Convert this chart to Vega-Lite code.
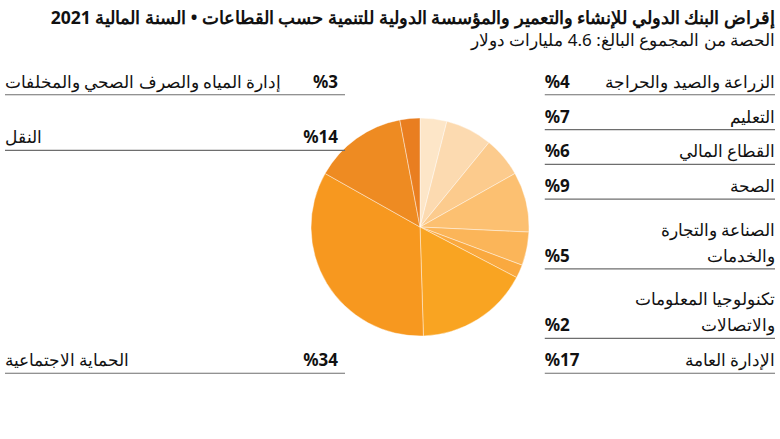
{
  "$schema": "https://vega.github.io/schema/vega-lite/v6.json",
  "width": 770,
  "height": 344,
  "autosize": {"type": "none"},
  "padding": {"left": 5, "top": 55, "right": 5, "bottom": 40},
  "background": "#ffffff",
  "config": {"view": {"stroke": null}, "font": "Noto Sans"},
  "title": {
    "text": "إقراض البنك الدولي للإنشاء والتعمير والمؤسسة الدولية للتنمية حسب القطاعات • السنة المالية 2021",
    "subtitle": "الحصة من المجموع البالغ: 4.6 مليارات دولار",
    "anchor": "end",
    "frame": "group",
    "font": "Noto Sans",
    "fontSize": 17.6,
    "fontWeight": "bold",
    "color": "#111111",
    "subtitleFont": "Noto Sans",
    "subtitleFontSize": 17,
    "subtitleColor": "#111111",
    "subtitlePadding": 5,
    "offset": 6
  },
  "data": {
    "values": [
      {"sector": "الزراعة والصيد والحراجة", "pct": 4},
      {"sector": "التعليم", "pct": 7},
      {"sector": "القطاع المالي", "pct": 6},
      {"sector": "الصحة", "pct": 9},
      {"sector": "الصناعة والتجارة\nوالخدمات", "pct": 5},
      {"sector": "تكنولوجيا المعلومات\nوالاتصالات", "pct": 2},
      {"sector": "الإدارة العامة", "pct": 17},
      {"sector": "الحماية الاجتماعية", "pct": 34},
      {"sector": "النقل", "pct": 14},
      {"sector": "إدارة المياه والصرف الصحي والمخلفات", "pct": 3}
    ]
  },
  "transform": [
    {"window": [{"op": "row_number", "as": "n"}]},
    {"calculate": "'%' + datum.pct", "as": "label"}
  ],
  "resolve": {"scale": {"y": "independent"}},
  "layer": [
    {
      "mark": {"type": "arc", "outerRadius": 109, "stroke": "#ffffff", "strokeWidth": 0.6, "strokeOpacity": 0.7},
      "encoding": {
        "theta": {"field": "pct", "type": "quantitative", "stack": true},
        "order": {"field": "n", "type": "quantitative"},
        "x": {"datum": 0.539, "type": "quantitative", "scale": {"domain": [0, 1]}, "axis": null},
        "color": {
          "field": "sector",
          "type": "nominal",
          "legend": null,
          "scale": {
            "domain": [
              "الزراعة والصيد والحراجة",
              "التعليم",
              "القطاع المالي",
              "الصحة",
              "الصناعة والتجارة\nوالخدمات",
              "تكنولوجيا المعلومات\nوالاتصالات",
              "الإدارة العامة",
              "الحماية الاجتماعية",
              "النقل",
              "إدارة المياه والصرف الصحي والمخلفات"
            ],
            "range": ["#fde6c8", "#fcdab0", "#fccb8d", "#fcc071", "#fbb559", "#faa93f", "#f9a422", "#f7981f", "#ee8b22", "#e97e20"]
          }
        }
      }
    },
    {
      "transform": [
        {"filter": {"field": "sector", "oneOf": [
          "الزراعة والصيد والحراجة",
          "التعليم",
          "القطاع المالي",
          "الصحة",
          "الصناعة والتجارة\nوالخدمات",
          "تكنولوجيا المعلومات\nوالاتصالات",
          "الإدارة العامة"
        ]}}
      ],
      "encoding": {
        "y": {
          "field": "sector",
          "type": "nominal",
          "axis": null,
          "scale": {
            "type": "point",
            "padding": 0.94,
            "domain": [
              "الزراعة والصيد والحراجة",
              "التعليم",
              "القطاع المالي",
              "الصحة",
              "_r1",
              "الصناعة والتجارة\nوالخدمات",
              "_r2",
              "تكنولوجيا المعلومات\nوالاتصالات",
              "الإدارة العامة"
            ]
          }
        }
      },
      "layer": [
        {
          "mark": {"type": "rule", "color": "#6e6e6e", "strokeWidth": 1.2, "yOffset": 7},
          "encoding": {
            "x": {"datum": 0.701, "type": "quantitative", "scale": {"domain": [0, 1]}, "axis": null},
            "x2": {"datum": 1}
          }
        },
        {
          "mark": {"type": "text", "align": "left", "baseline": "alphabetic", "fontSize": 17, "fontWeight": "bold", "color": "#111111", "font": "Noto Sans"},
          "encoding": {
            "x": {"datum": 0.701, "type": "quantitative", "scale": {"domain": [0, 1]}, "axis": null},
            "text": {"field": "label"}
          }
        },
        {
          "transform": [{"filter": "indexof(datum.sector, '\\n') < 0"}],
          "mark": {"type": "text", "align": "right", "baseline": "bottom", "dy": 3, "fontSize": 16.5, "color": "#111111", "font": "Noto Sans"},
          "encoding": {
            "x": {"datum": 1, "type": "quantitative", "scale": {"domain": [0, 1]}, "axis": null},
            "text": {"field": "sector"}
          }
        },
        {
          "transform": [{"filter": "indexof(datum.sector, '\\n') >= 0"}],
          "mark": {"type": "text", "align": "right", "baseline": "bottom", "dy": -23, "lineBreak": "\n", "lineHeight": 26, "fontSize": 16.5, "color": "#111111", "font": "Noto Sans"},
          "encoding": {
            "x": {"datum": 1, "type": "quantitative", "scale": {"domain": [0, 1]}, "axis": null},
            "text": {"field": "sector"}
          }
        }
      ]
    },
    {
      "transform": [
        {"filter": {"field": "sector", "oneOf": [
          "الحماية الاجتماعية",
          "النقل",
          "إدارة المياه والصرف الصحي والمخلفات"
        ]}}
      ],
      "encoding": {
        "y": {
          "field": "sector",
          "type": "nominal",
          "axis": null,
          "scale": {
            "type": "point",
            "padding": 0.588,
            "domain": [
              "إدارة المياه والصرف الصحي والمخلفات",
              "النقل",
              "_l1",
              "_l2",
              "_l3",
              "الحماية الاجتماعية"
            ]
          }
        }
      },
      "layer": [
        {
          "mark": {"type": "rule", "color": "#6e6e6e", "strokeWidth": 1.2, "yOffset": 7},
          "encoding": {
            "x": {"datum": 0, "type": "quantitative", "scale": {"domain": [0, 1]}, "axis": null},
            "x2": {"datum": 0.4416}
          }
        },
        {
          "mark": {"type": "text", "align": "right", "baseline": "alphabetic", "fontSize": 17, "fontWeight": "bold", "color": "#111111", "font": "Noto Sans"},
          "encoding": {
            "x": {"datum": 0.4325, "type": "quantitative", "scale": {"domain": [0, 1]}, "axis": null},
            "text": {"field": "label"}
          }
        },
        {
          "mark": {"type": "text", "align": "left", "baseline": "bottom", "dy": 3, "fontSize": 16.5, "color": "#111111", "font": "Noto Sans"},
          "encoding": {
            "x": {"datum": 0, "type": "quantitative", "scale": {"domain": [0, 1]}, "axis": null},
            "text": {"field": "sector"}
          }
        }
      ]
    }
  ]
}
